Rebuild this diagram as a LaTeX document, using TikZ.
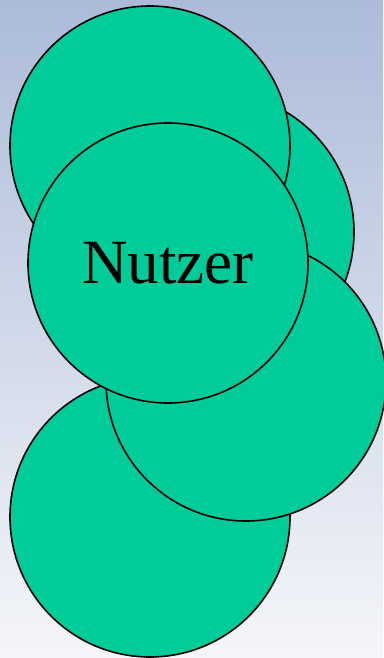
\documentclass[tikz,border=0pt]{standalone}
\usepackage{fontspec}
\setmainfont{Liberation Serif}
\usetikzlibrary{positioning}
\definecolor{skytop}{HTML}{ABBBD9}
\definecolor{skybottom}{HTML}{F5F6FA}
\definecolor{blobgreen}{HTML}{00CC99}

\begin{document}
\begin{tikzpicture}[
      x=1pt, y=-1pt,
      blob/.style={circle, draw=black, line width=1.6pt, fill=blobgreen, minimum size=280pt, inner sep=0pt},
    ]
    % Background
    \shade[top color=skytop, bottom color=skybottom] (0,0) rectangle (383,658);
    \useasboundingbox (0,0) rectangle (383,658);

    % Circles, back to front
    \node[blob] (right) at (214,232) {};
    \node[blob] (topleft) at (150,146) {};
    \node[blob] (bottomleft) at (150,517) {};
    \node[blob] (bottomright) at (246,381) {};
    \node[blob, font=\fontsize{63}{70}\selectfont] (nutzer) at (168,263) {Nutzer};
  \end{tikzpicture}
\end{document}
